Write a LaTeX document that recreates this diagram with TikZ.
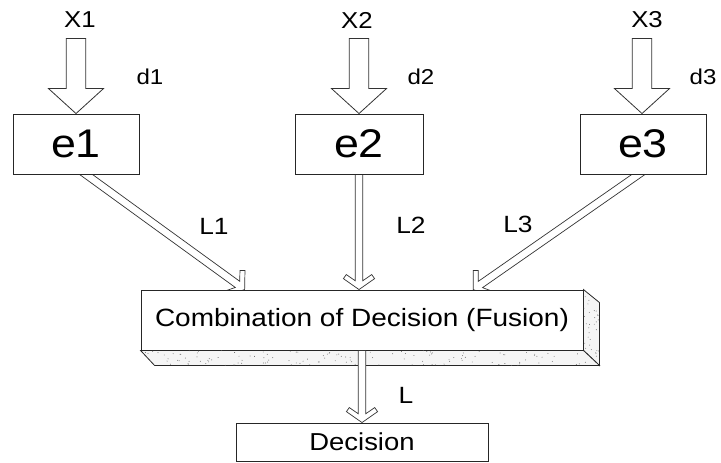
\documentclass[tikz,border=0pt]{standalone}
\usepackage{fontspec}
\setmainfont{Liberation Sans}[FakeStretch=1.12]
\usetikzlibrary{calc}
\pgfdeclarelayer{background}
\pgfsetlayers{background,main}

% hollow block arrow: #1 tail, #2 tip
\newcommand\blockarrow[2]{%
  \coordinate (ba-b) at ($(#2)!25pt!(#1)$);
  \draw[inarrow] ($(#1)!9.75pt!90:(#2)$) -- ($(ba-b)!9.75pt!-90:(#1)$)
    -- ($(ba-b)!27.5pt!-90:(#1)$) -- (#2) -- ($(ba-b)!27.5pt!90:(#1)$)
    -- ($(ba-b)!9.75pt!90:(#1)$) -- ($(#1)!9.75pt!-90:(#2)$) -- cycle;
}
% outlined arrow with a chevron head: [#1 tail extension] #2 tail, #3 tip
\newcommand\linkarrow[3][12pt]{%
  \coordinate (la-s) at ($(#2)!-#1!(#3)$);
  \coordinate (la-i) at ($(#3)!8.8pt!(#2)$);
  \coordinate (la-b) at ($(#3)!15pt!(#2)$);
  \coordinate (la-o) at ($(#3)!10.9pt!(#2)$);
  \draw[link] ($(la-s)!3.8pt!90:(#3)$) -- ($(la-i)!3.8pt!-90:(#2)$)
    -- ($(la-b)!12.7pt!-90:(#2)$) -- ($(la-o)!15.6pt!-90:(#2)$) -- (#3)
    -- ($(la-o)!15.6pt!90:(#2)$) -- ($(la-b)!12.7pt!90:(#2)$)
    -- ($(la-i)!3.8pt!90:(#2)$) -- ($(la-s)!3.8pt!-90:(#3)$) -- cycle;
}

\tikzset{
  box/.style={draw=black!85, line width=0.9pt, fill=white, inner sep=0pt},
  ebox/.style={box, minimum height=60pt, font=\fontsize{40}{40}\selectfont},
  inarrow/.style={draw=black!80, line width=0.8pt, fill=white, line join=miter},
  link/.style={draw=black!80, line width=0.7pt, fill=white, line join=miter},
  face/.style={draw=black!85, line width=0.8pt, fill=black!4},
  xlabel/.style={inner sep=0pt, font=\fontsize{23}{23}\selectfont},
  dlabel/.style={inner sep=0pt, font=\fontsize{21.5}{21.5}\selectfont},
  llabel/.style={inner sep=0pt, font=\fontsize{23.5}{23.5}\selectfont},
}

\begin{document}
\begin{tikzpicture}[x=1pt, y=-1pt]
\useasboundingbox (0,0) rectangle (721,463);

% experts
\node[ebox, minimum width=126pt] (e1) at (76,144) {e1};
\node[ebox, minimum width=128pt] (e2) at (359,144) {e2};
\node[ebox, minimum width=126pt] (e3) at (643,144) {e3};

% fusion block and final decision
\node[box, minimum width=442pt, minimum height=60pt,
      font=\fontsize{25}{25}\selectfont] (comb) at (362,320)
      {Combination of Decision (Fusion)};
\node[box, minimum width=252pt, minimum height=38pt,
      font=\fontsize{24.5}{24.5}\selectfont] (dec) at (362,442) {Decision};

% input and link labels
\node[xlabel] (x1) at (80,20) {X1};
\node[xlabel] (x2) at (357,20) {X2};
\node[xlabel] (x3) at (647,20) {X3};
\node[dlabel] (d1) at (150,77) {d1};
\node[dlabel] (d2) at (421,77) {d2};
\node[dlabel] (d3) at (703,77) {d3};
\node[llabel] (l1) at (214,226) {L1};
\node[llabel] (l2) at (411,225) {L2};
\node[llabel] (l3) at (518,224) {L3};
\node[llabel] (l)  at (406,395) {L};

% links from the experts to the fusion block, behind the boxes
\begin{pgfonlayer}{background}
  \linkarrow{$(e1.south)+(10,0)$}{$(comb.north west)!0.235!(comb.north east)$}
  \linkarrow{e2.south}{e2.south |- comb.north}
  \linkarrow{$(e3.south)+(-6,1)$}{$(comb.north west)!0.751!(comb.north east)$}
\end{pgfonlayer}

% extruded faces of the fusion block
\filldraw[face] (comb.north east) -- ($(comb.north east)+(16,13)$)
  -- ($(comb.south east)+(16,15)$) -- (comb.south east) -- cycle;
\filldraw[face] (comb.south west) -- ($(comb.south west)+(14,15)$)
  -- ($(comb.south east)+(16,15)$) -- (comb.south east) -- cycle;
\pgfmathsetseed{7}
\foreach \i in {1,...,130} {
  \pgfmathsetmacro\u{rnd}\pgfmathsetmacro\v{rnd}
  \fill[black!65] ($(comb.south west)+({14*\v+3+(436+2*\v)*\u},{15*\v})$) circle (0.45pt);
}
\foreach \i in {1,...,30} {
  \pgfmathsetmacro\u{rnd}\pgfmathsetmacro\v{rnd}
  \fill[black!65] ($(comb.north east)+({16*\v},{13*\v+3+(55+2*\v)*\u})$) circle (0.45pt);
}

% fused output to the decision
\linkarrow[0pt]{comb.south}{dec.north}

% inputs to the experts
\blockarrow{$(e1.north)+(0,-75)$}{e1.north}
\blockarrow{$(e2.north)+(0,-75)$}{e2.north}
\blockarrow{$(e3.north)+(-1,-75)$}{$(e3.north)+(-1,0)$}
\end{tikzpicture}
\end{document}
